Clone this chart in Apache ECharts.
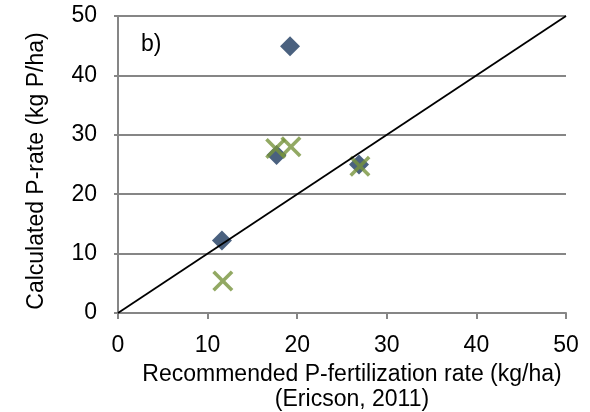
<!DOCTYPE html>
<html><head><meta charset="utf-8">
<script src="https://cdn.jsdelivr.net/npm/echarts@6/dist/echarts.min.js"></script>
<style>html,body{margin:0;padding:0;background:#fff}#c{width:590px;height:412px}</style>
</head><body><div id="c"></div>
<script>
const xTicks = [0, 10, 20, 30, 40, 50];
const yTicks = [0, 10, 20, 30, 40, 50];
const diamondX = [19.2, 11.6, 17.7, 26.9];
const diamondY = [44.9, 12.2, 26.6, 25.0];
const crossX = [11.7, 17.6, 19.3, 27.0];
const crossY = [5.4, 27.7, 28.0, 24.7];
const lineX = [0, 50];
const lineY = [0, 50];
const panelLabel = 'b)';
const xTitle = 'Recommended P-fertilization rate (kg/ha)\n(Ericson, 2011)';
const yTitle = 'Calculated P-rate (kg P/ha)';

const FONT = '"Liberation Sans", Arial, sans-serif';
const FS = 23;
const GRAY = '#868686';
const crossPath = 'path://M0,12 L12,0 L50,38 L88,0 L100,12 L62,50 L100,88 L88,100 L50,62 L12,100 L0,88 L38,50 Z';

const chart = echarts.init(document.getElementById('c'), null, {renderer: 'canvas'});
chart.setOption({
  animation: false,
  backgroundColor: '#fff',
  grid: {left: 118, top: 16, right: 24, bottom: 99, containLabel: false, outerBoundsMode: 'none'},
  xAxis: {
    type: 'value', min: xTicks[0], max: xTicks[xTicks.length - 1], interval: 10,
    axisLine: {show: true, lineStyle: {color: GRAY, width: 2}},
    axisTick: {show: true, length: 6, lineStyle: {color: GRAY, width: 2}},
    splitLine: {show: false},
    axisLabel: {fontFamily: FONT, fontSize: FS, color: '#000', margin: 21},
    name: xTitle, nameLocation: 'middle', nameGap: 42,
    nameTextStyle: {fontFamily: FONT, fontSize: FS, color: '#000', lineHeight: 25, padding: [0, 0, 0, 20]}
  },
  yAxis: {
    type: 'value', min: yTicks[0], max: yTicks[yTicks.length - 1], interval: 10,
    axisLine: {show: true, lineStyle: {color: GRAY, width: 2}},
    axisTick: {show: true, length: 4, lineStyle: {color: GRAY, width: 2}},
    splitLine: {show: true, lineStyle: {color: GRAY, width: 2}},
    axisLabel: {fontFamily: FONT, fontSize: FS, color: '#000', margin: 21},
    name: yTitle, nameLocation: 'middle', nameGap: 70, nameRotate: 90,
    nameTextStyle: {fontFamily: FONT, fontSize: FS, color: '#000', padding: [0, 13, 0, 0]}
  },
  graphic: [{
    type: 'text', left: 141, top: 33,
    style: {text: panelLabel, font: FS + 'px ' + FONT, fill: '#000'}
  }],
  series: [
    {
      type: 'scatter', symbol: 'diamond', symbolSize: 20,
      itemStyle: {color: '#1D3A5F'},
      data: diamondX.map((x, i) => [x, diamondY[i]]), z: 3
    },
    {
      type: 'scatter', symbol: crossPath, symbolSize: 21,
      itemStyle: {color: '#77933C'},
      data: crossX.map((x, i) => [x, crossY[i]]), z: 4
    },
    {
      type: 'line', showSymbol: false, symbol: 'none',
      lineStyle: {color: '#000', width: 1.8},
      data: lineX.map((x, i) => [x, lineY[i]]), z: 5
    }
  ]
});
</script></body></html>
